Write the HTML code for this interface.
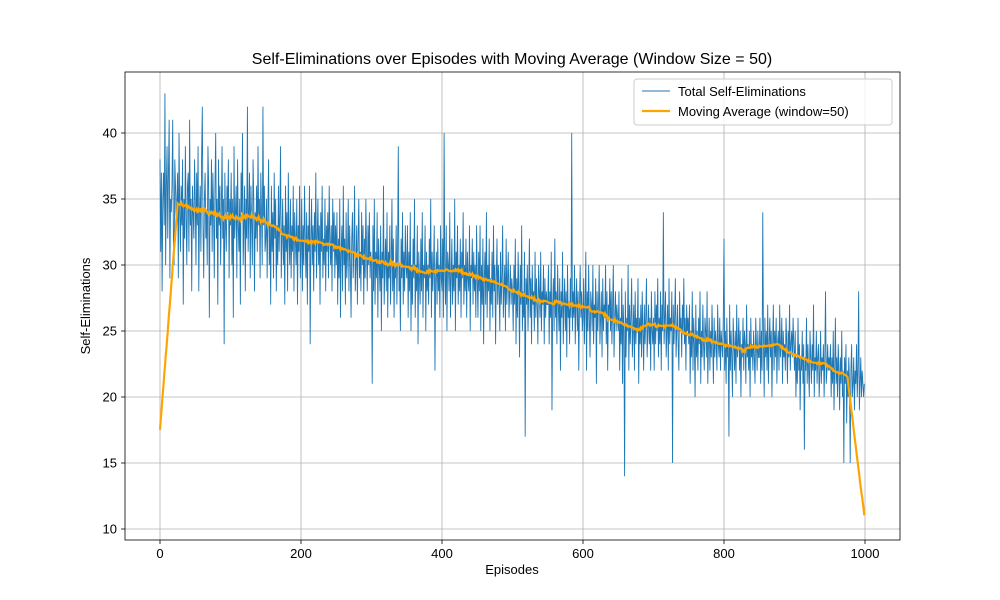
<!DOCTYPE html>
<html><head><meta charset="utf-8"><style>
body{margin:0;background:#fff;}
svg{display:block;font-family:"Liberation Sans","DejaVu Sans",sans-serif;}
</style></head><body>
<svg id="chart" width="1000" height="600"></svg>
<script>
const xTicks=[0,200,400,600,800,1000];
const yTicks=[10,15,20,25,30,35,40];
const selfEliminations=[
38,31,37,28,35,37,33,43,30,36,39,32,37,41,29,35,34,36,41,32,30,38,36,33,35,37,29,40,34,31,36,33,38,27,35,32,39,34,30,36,37,31,41,33,35,28,36,34,32,38,
35,30,37,33,39,28,34,36,31,38,42,33,29,35,37,32,34,30,39,36,26,35,33,38,31,37,34,29,36,40,32,35,27,38,33,36,30,34,39,32,35,24,37,33,31,36,34,38,29,35,
33,37,30,35,26,39,32,34,36,29,38,33,31,35,27,37,34,40,30,33,36,28,35,32,42,31,34,37,29,36,33,30,38,35,28,34,32,36,31,39,33,35,29,37,34,30,42,33,36,31,
32,35,29,34,38,30,33,27,36,31,34,29,37,32,35,28,33,30,36,31,34,39,29,32,35,30,33,27,36,31,34,28,37,32,30,35,29,33,31,36,28,34,32,30,35,27,33,31,36,29,
31,35,28,33,30,36,32,29,34,27,33,31,36,24,32,35,30,33,28,34,31,37,29,32,35,30,33,27,34,31,36,29,32,30,35,28,33,31,34,29,36,32,30,33,28,35,31,34,29,33,
30,34,27,32,29,35,26,31,33,28,36,30,32,27,34,29,31,35,28,33,30,26,32,34,29,31,36,28,30,33,27,32,35,29,31,28,34,30,33,27,32,29,35,31,28,33,30,34,29,31,
30,21,33,28,35,27,31,29,34,26,32,30,28,33,25,31,29,36,27,30,32,28,34,26,31,29,33,27,30,35,28,32,26,30,29,33,27,31,39,28,30,25,32,29,34,27,31,28,33,30,
29,33,26,31,28,34,25,30,27,32,29,35,26,30,28,33,24,31,29,27,32,28,34,26,30,29,33,25,31,28,30,27,32,29,35,26,31,28,30,33,22,29,31,27,32,28,30,26,33,29,
28,32,26,40,29,27,33,25,31,30,28,34,26,29,32,27,30,28,35,25,31,29,33,27,30,28,32,26,31,29,34,27,30,28,32,26,31,29,28,33,25,30,29,32,27,31,28,30,26,33,
29,26,31,28,33,25,30,27,32,24,29,31,27,34,26,30,28,32,25,29,27,31,26,33,28,30,24,29,32,27,30,28,25,31,27,29,33,26,28,30,25,32,27,29,31,26,28,30,27,29,
28,25,30,27,32,24,29,26,31,28,23,30,27,33,25,28,26,31,17,29,27,30,25,28,32,26,29,24,30,27,28,25,31,26,29,27,24,30,28,26,31,25,28,27,30,24,29,26,28,27,
27,30,24,28,26,31,19,27,29,25,32,26,28,24,30,27,25,29,22,28,26,31,24,27,29,25,28,23,30,26,27,24,29,26,40,25,28,26,30,24,27,29,25,28,22,27,30,26,28,25,
26,29,24,27,31,22,28,25,30,26,23,28,27,25,30,24,27,26,29,21,28,25,27,30,24,26,28,23,29,25,27,26,30,24,28,22,27,26,29,25,28,24,27,30,23,26,28,25,27,26,
25,28,22,26,24,29,21,27,25,14,28,23,26,25,30,22,27,24,26,29,23,25,27,22,28,24,26,25,29,21,26,24,27,23,28,25,22,27,24,26,29,23,25,27,24,26,22,28,25,24,
26,22,28,24,27,25,29,23,26,24,28,22,27,25,34,24,26,28,23,25,27,22,29,24,26,25,28,15,27,24,26,29,23,25,27,24,22,28,25,26,23,27,25,29,24,26,22,27,25,26,
24,27,21,25,23,28,22,26,24,20,27,23,25,22,26,24,28,21,25,23,27,24,22,26,25,23,28,21,24,26,22,25,23,27,24,21,26,23,25,24,22,27,24,23,26,22,25,24,23,26,
32,22,25,21,26,23,24,17,27,22,25,23,20,26,24,22,25,21,27,23,24,26,22,25,20,24,23,26,22,25,24,21,27,23,24,22,25,20,26,23,24,22,25,23,21,26,24,22,25,23,
23,26,21,25,22,34,24,20,26,23,25,22,27,21,24,26,23,25,20,24,27,22,25,23,26,21,24,25,22,27,23,24,26,21,25,23,24,22,26,24,21,25,23,27,22,24,25,23,26,24,
22,25,20,23,21,26,22,24,19,23,22,25,21,24,16,23,22,26,21,24,22,20,25,23,21,24,22,27,20,23,22,25,21,23,24,20,22,25,21,23,22,24,20,23,28,21,22,24,22,23,
22,24,20,23,21,25,19,22,26,21,23,20,24,22,19,23,21,25,20,22,15,23,21,24,18,22,20,23,21,15,22,24,20,21,23,19,22,21,24,20,22,28,19,21,23,20,22,21,20,21
];
const windowSize=50;

const svg=document.getElementById('chart');
const NS='http://www.w3.org/2000/svg';
const L=125,R=900,T=72,B=540;
const xs=v=>160+v*(865-160)/1000;
const ys=v=>529-(v-10)*(529-133)/30;
function el(tag,attrs,parent){const e=document.createElementNS(NS,tag);for(const k in attrs)e.setAttribute(k,attrs[k]);(parent||svg).appendChild(e);return e;}

// grid
xTicks.forEach(t=>{const g=el('line',{x1:xs(t),x2:xs(t),y1:T,y2:B,stroke:'#b0b0b0','stroke-width':0.8});

});
yTicks.forEach(t=>{const g=el('line',{x1:L,x2:R,y1:ys(t),y2:ys(t),stroke:'#b0b0b0','stroke-width':0.8});

});

// data line
const n=selfEliminations.length;
let d='';
selfEliminations.forEach((v,i)=>{d+=(i?'L':'M')+xs(i).toFixed(2)+' '+ys(v).toFixed(2);});
const p1=el('path',{d:d,fill:'none',stroke:'#1f77b4','stroke-width':0.9});



// moving average (same-mode convolution)
const ma=[];
for(let i=0;i<n;i++){let s=0;for(let j=i-25;j<i+25;j++){if(j>=0&&j<n)s+=selfEliminations[j];}ma.push(s/windowSize);}
let d2='';
ma.forEach((v,i)=>{d2+=(i?'L':'M')+xs(i).toFixed(2)+' '+ys(v).toFixed(2);});
const p2=el('path',{d:d2,fill:'none',stroke:'#ffa500','stroke-width':2.2});



// frame
const fr=el('rect',{x:L,y:T,width:R-L,height:B-T,fill:'none',stroke:'#000','stroke-width':0.8});



// ticks
xTicks.forEach(t=>{
el('line',{x1:xs(t),x2:xs(t),y1:B,y2:B+4,stroke:'#000','stroke-width':0.8});
const tx=el('text',{x:xs(t),y:B+18,'text-anchor':'middle','font-size':13});tx.textContent=t;

});
yTicks.forEach(t=>{
el('line',{x1:L-4,x2:L,y1:ys(t),y2:ys(t),stroke:'#000','stroke-width':0.8});
const tx=el('text',{x:L-8,y:ys(t)+4.5,'text-anchor':'end','font-size':13});tx.textContent=t;

});

// labels
const title=el('text',{x:512,y:64,'text-anchor':'middle','font-size':16});title.textContent='Self-Eliminations over Episodes with Moving Average (Window Size = 50)';


const xl=el('text',{x:512,y:574,'text-anchor':'middle','font-size':13});xl.textContent='Episodes';


const yl=el('text',{x:0,y:0,'text-anchor':'middle','font-size':13,transform:'translate(90,306) rotate(-90)'});yl.textContent='Self-Eliminations';



// legend
const lg=el('g',{});


el('rect',{x:634,y:79,width:258,height:46,rx:3,fill:'#fff','fill-opacity':0.8,stroke:'#ccc','stroke-width':1},lg);
el('line',{x1:642,x2:670,y1:91,y2:91,stroke:'#1f77b4','stroke-width':0.9},lg);
const l1=el('text',{x:678,y:96,'font-size':13},lg);l1.textContent='Total Self-Eliminations';


el('line',{x1:642,x2:670,y1:111,y2:111,stroke:'#ffa500','stroke-width':2.2},lg);
const l2=el('text',{x:678,y:116,'font-size':13},lg);l2.textContent='Moving Average (window=50)';


</script>
</body></html>
